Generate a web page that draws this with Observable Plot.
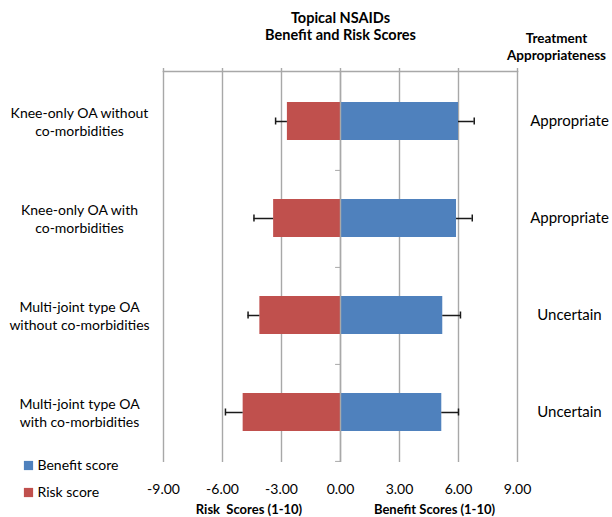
<!DOCTYPE html>
<html><head><meta charset="utf-8">
<script src="https://cdn.jsdelivr.net/npm/d3@7"></script>
<script src="https://cdn.jsdelivr.net/npm/@observablehq/plot@0.6"></script>
<style>body{margin:0;background:#fff}</style>
</head><body><div id="chart"></div>
<script>
const categories = [
  "Knee-only OA without\nco-morbidities",
  "Knee-only OA with\nco-morbidities",
  "Multi-joint type OA\nwithout co-morbidities",
  "Multi-joint type OA\nwith co-morbidities"
];
const treatment = ["Appropriate", "Appropriate", "Uncertain", "Uncertain"];
const riskScore = [2.7, 3.4, 4.1, 4.95];
const riskError = [0.6, 1.0, 0.6, 0.9];
const benefitScore = [6.0, 5.9, 5.2, 5.15];
const benefitError = [0.8, 0.8, 0.9, 0.85];
const xTicks = [-9, -6, -3, 0, 3, 6, 9];
const legendLabels = ["Benefit score", "Risk score"];
const colors = ["#4F81BD", "#C0504D"];
const titleText = "Topical NSAIDs\nBenefit and Risk Scores";
const headerText = "Treatment\nAppropriateness";
const riskAxisTitle = "Risk\u00a0 Scores (1-10)";
const benefitAxisTitle = "Benefit Scores (1-10)";

const rows = categories.map((c, i) => ({
  category: c,
  treatment: treatment[i],
  risk: -riskScore[i],
  riskEnd: -(riskScore[i] + riskError[i]),
  benefit: benefitScore[i],
  benefitEnd: benefitScore[i] + benefitError[i]
}));

const grid = "#a8a8a8";
const errColor = "#1a1a1a";

const plot = Plot.plot({
  width: 612,
  height: 517,
  marginTop: 71,
  marginBottom: 55,
  marginLeft: 163,
  marginRight: 95,
  style: {fontFamily: "Lato, 'Open Sans', sans-serif", fontSize: "14px", color: "#000", background: "#fff"},
  x: {domain: [-9, 9]},
  y: {domain: categories, paddingInner: 0.61, paddingOuter: 0.305, axis: null},
  marks: [
    Plot.ruleX(xTicks, {stroke: grid, strokeWidth: 1.4}),
    Plot.frame({anchor: "top", stroke: grid, strokeWidth: 1.4}),
    Plot.axisX({anchor: "top", ticks: xTicks, tickSize: 4, tickFormat: () => "", stroke: grid, strokeWidth: 1.4, label: null}),
    Plot.axisX({anchor: "bottom", ticks: xTicks, tickSize: 0, tickPadding: 22, tickFormat: d => d.toFixed(2), label: null, fontSize: 14}),
    Plot.barX(rows, {y: "category", x1: 0, x2: "risk", fill: colors[1]}),
    Plot.barX(rows, {y: "category", x1: 0, x2: "benefit", fill: colors[0]}),
    Plot.ruleX([0], {stroke: grid, strokeWidth: 1.4}),
    Plot.ruleY(categories, {y: d => d, x1: -0.25, x2: 0, dy: 48.9, stroke: grid}),
    Plot.ruleY(rows, {y: "category", x1: "risk", x2: "riskEnd", stroke: errColor, strokeWidth: 1.5}),
    Plot.tickX(rows, {y: "category", x: "riskEnd", insetTop: 15.5, insetBottom: 15.5, stroke: errColor, strokeWidth: 1.5}),
    Plot.ruleY(rows, {y: "category", x1: "benefit", x2: "benefitEnd", stroke: errColor, strokeWidth: 1.5}),
    Plot.tickX(rows, {y: "category", x: "benefitEnd", insetTop: 15.5, insetBottom: 15.5, stroke: errColor, strokeWidth: 1.5}),
    Plot.text(rows, {y: "category", text: "category", frameAnchor: "left", dx: -84, textAnchor: "middle", lineHeight: 1.25, fontSize: 14}),
    Plot.text(rows, {y: "category", text: "treatment", frameAnchor: "right", dx: 52, textAnchor: "middle", fontSize: 15}),
    Plot.text([titleText], {frameAnchor: "top", dy: -45.5, lineAnchor: "middle", lineHeight: 1.2, fontWeight: "bold", fontSize: 14.5}),
    Plot.text([headerText], {frameAnchor: "top-right", dx: 39, dy: -25, textAnchor: "middle", lineAnchor: "middle", lineHeight: 1.25, fontWeight: "bold", fontSize: 13.5}),
    Plot.text([riskAxisTitle], {frameAnchor: "bottom", dx: -91.5, dy: 47, lineAnchor: "middle", fontWeight: "bold", fontSize: 13}),
    Plot.text([benefitAxisTitle], {frameAnchor: "bottom", dx: 94, dy: 47, lineAnchor: "middle", fontWeight: "bold", fontSize: 13}),
    Plot.dot([legendLabels[0]], {frameAnchor: "bottom-left", dx: -135, dy: 3, symbol: "square", r: 5.2, fill: colors[0]}),
    Plot.text([legendLabels[0]], {frameAnchor: "bottom-left", dx: -126, dy: 3, textAnchor: "start", lineAnchor: "middle", fontSize: 14}),
    Plot.dot([legendLabels[1]], {frameAnchor: "bottom-left", dx: -135, dy: 30, symbol: "square", r: 5.2, fill: colors[1]}),
    Plot.text([legendLabels[1]], {frameAnchor: "bottom-left", dx: -126, dy: 30, textAnchor: "start", lineAnchor: "middle", fontSize: 14})
  ]
});
document.getElementById("chart").appendChild(plot);
</script>
</body></html>
